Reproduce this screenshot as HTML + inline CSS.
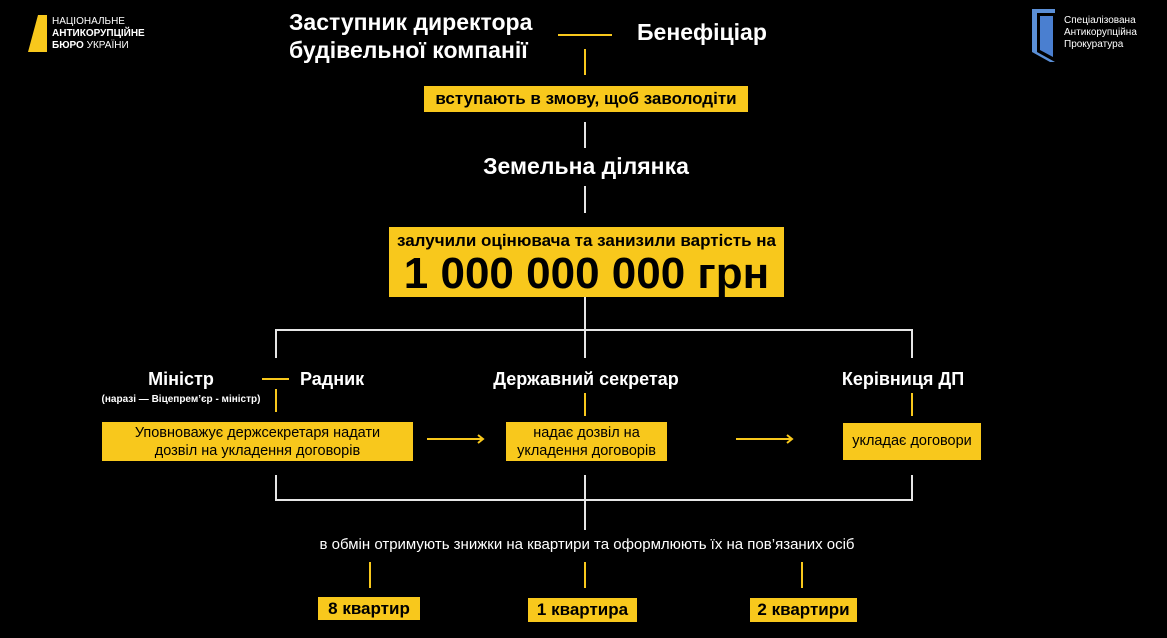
<!DOCTYPE html>
<html><head><meta charset="utf-8"><style>
html,body{margin:0;padding:0;background:#000;}
body{width:1167px;height:638px;overflow:hidden;position:relative;font-family:"Liberation Sans","DejaVu Sans",sans-serif;}
.t{position:absolute;color:#fff;font-weight:bold;white-space:nowrap;}
.y{position:absolute;background:#f8c81c;color:#000;font-weight:bold;text-align:center;white-space:nowrap;}
.c{transform:translateX(-50%);}
</style></head><body>
<svg width="1167" height="638" style="position:absolute;left:0;top:0">
<g stroke="#e6e6e6" stroke-width="2" fill="none">
<line x1="585" y1="122" x2="585" y2="148"/>
<line x1="585" y1="186" x2="585" y2="213"/>
<line x1="585" y1="297" x2="585" y2="330"/>
<polyline points="276,358 276,330 912,330 912,358"/>
<line x1="585" y1="330" x2="585" y2="358"/>
<polyline points="276,475 276,500 912,500 912,475"/>
<line x1="585" y1="475" x2="585" y2="530"/>
</g>
<g stroke="#f8c81c" stroke-width="2" fill="none">
<line x1="558" y1="35" x2="612" y2="35"/>
<line x1="585" y1="49" x2="585" y2="75"/>
<line x1="262" y1="379" x2="289" y2="379"/>
<line x1="276" y1="389" x2="276" y2="412"/>
<line x1="585" y1="393" x2="585" y2="416"/>
<line x1="912" y1="393" x2="912" y2="416"/>
<line x1="427" y1="439" x2="483" y2="439"/><polyline points="478,435 483,439 478,443"/>
<line x1="736" y1="439" x2="792" y2="439"/><polyline points="787,435 792,439 787,443"/>
<line x1="370" y1="562" x2="370" y2="588"/>
<line x1="585" y1="562" x2="585" y2="588"/>
<line x1="802" y1="562" x2="802" y2="588"/>
</g>
<polygon points="38,15 47,15 47,52 28,52" fill="#f8c81c"/>
<polygon points="1032,9 1055,9 1055,13 1037,13 1037,52 1055,62 1050,62 1032,52" fill="#5b8fd6"/>
<polygon points="1040,16 1053,16 1053,57 1040,50" fill="#4a7fd0"/>
</svg>
<div class="t" style="left:52px;top:16px;font-size:10px;line-height:12px;font-weight:normal">НАЦІОНАЛЬНЕ<br><b>АНТИКОРУПЦІЙНЕ</b><br><b>БЮРО</b> УКРАЇНИ</div>
<div class="t" style="left:1064px;top:15px;font-size:10px;line-height:12px;font-weight:normal">Спеціалізована<br>Антикорупційна<br>Прокуратура</div>
<div class="t" style="left:289px;top:8px;font-size:23px;line-height:28px">Заступник директора<br>будівельної компанії</div>
<div class="t" style="left:637px;top:19px;font-size:23px">Бенефіціар</div>
<div class="y" style="left:424px;top:86px;width:324px;height:26px;line-height:26px;font-size:17px">вступають в змову, щоб заволодіти</div>
<div class="t c" style="left:586px;top:153px;font-size:23px">Земельна ділянка</div>
<div class="y" style="left:389px;top:227px;width:395px;height:70px">
<div style="font-size:17px;line-height:24px;margin-top:2px">залучили оцінювача та занизили вартість на</div>
<div style="font-size:44px;line-height:42px">1 000 000 000 грн</div></div>
<div class="t c" style="left:181px;top:369px;font-size:18px">Міністр</div>
<div class="t c" style="left:181px;top:394px;font-size:10px">(наразі — Віцепрем’єр - міністр)</div>
<div class="t" style="left:300px;top:369px;font-size:18px">Радник</div>
<div class="t c" style="left:586px;top:369px;font-size:18px">Державний секретар</div>
<div class="t c" style="left:903px;top:369px;font-size:18px">Керівниця ДП</div>
<div class="y" style="left:102px;top:422px;width:311px;height:39px;font-size:14.5px;line-height:18px;font-weight:normal;padding-top:2px;box-sizing:border-box">Уповноважує держсекретаря надати<br>дозвіл на укладення договорів</div>
<div class="y" style="left:506px;top:422px;width:161px;height:39px;font-size:14.5px;line-height:18px;font-weight:normal;padding-top:2px;box-sizing:border-box">надає дозвіл на<br>укладення договорів</div>
<div class="y" style="left:843px;top:423px;width:138px;height:37px;line-height:37px;font-size:14.5px;font-weight:normal">укладає договори</div>
<div class="t c" style="left:587px;top:536px;font-size:15px;font-weight:normal">в обмін отримують знижки на квартири та оформлюють їх на пов’язаних осіб</div>
<div class="y" style="left:318px;top:597px;width:102px;height:23px;line-height:23px;font-size:17px">8 квартир</div>
<div class="y" style="left:528px;top:598px;width:109px;height:24px;line-height:24px;font-size:17px">1 квартира</div>
<div class="y" style="left:750px;top:598px;width:107px;height:24px;line-height:24px;font-size:17px">2 квартири</div>
</body></html>
